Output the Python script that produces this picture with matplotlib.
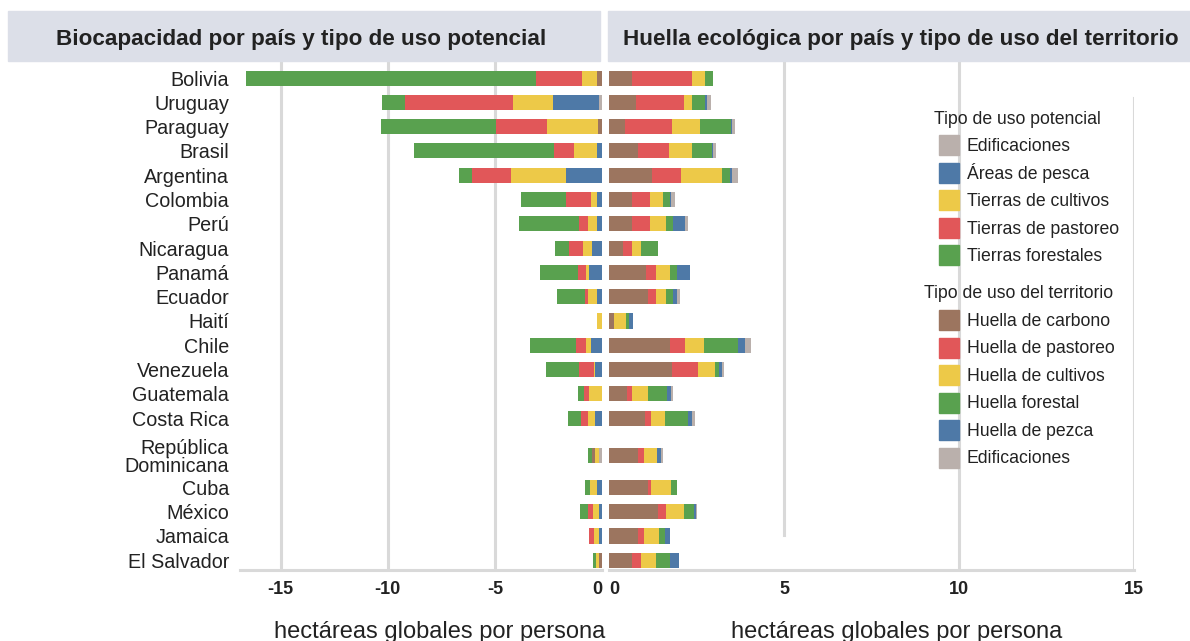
import numpy as np
import matplotlib.pyplot as plt
from matplotlib.patches import Patch, Rectangle

# datos (hectareas globales por persona)
paises = ["Bolivia", "Uruguay", "Paraguay", "Brasil", "Argentina", "Colombia",
          "Perú", "Nicaragua", "Panamá", "Ecuador", "Haití", "Chile",
          "Venezuela", "Guatemala", "Costa Rica", "República\nDominicana",
          "Cuba", "México", "Jamaica", "El Salvador"]

# biocapacidad (panel izquierdo)
bio_otros = [0.23, 0, 0.19, 0, 0, 0, 0, 0, 0, 0, 0, 0, 0, 0, 0, 0, 0, 0, 0, 0.14]
bio_edificaciones = [0, 0.14, 0, 0, 0, 0, 0, 0, 0, 0, 0, 0, 0, 0, 0, 0.14, 0, 0, 0, 0]
bio_pesca = [0, 2.15, 0, 0.23, 1.68, 0.23, 0.23, 0.47, 0.61, 0.23, 0, 0.51, 0.33,
             0, 0.33, 0, 0.23, 0.14, 0.14, 0]
bio_cultivos = [0.70, 1.87, 2.38, 1.07, 2.57, 0.28, 0.42, 0.42, 0.14, 0.42, 0.23,
                0.23, 0.05, 0.61, 0.33, 0.19, 0.33, 0.28, 0.23, 0.14]
bio_pastoreo = [2.17, 5.02, 2.38, 0.93, 1.84, 1.18, 0.44, 0.65, 0.37, 0.14, 0,
                0.48, 0.70, 0.23, 0.34, 0.14, 0, 0.22, 0.23, 0]
bio_forestal = [13.54, 1.11, 5.37, 6.54, 0.59, 2.09, 2.79, 0.65, 1.78, 1.31, 0,
                2.13, 1.54, 0.28, 0.59, 0.19, 0.23, 0.39, 0, 0.14]

# huella ecologica (panel derecho)
huella_carbono = [0.66, 0.78, 0.45, 0.83, 1.24, 0.66, 0.66, 0.41, 1.06, 1.12, 0.14,
                  1.75, 1.81, 0.52, 1.03, 0.83, 1.12, 1.41, 0.83, 0.66]
huella_pastoreo = [1.72, 1.35, 1.36, 0.89, 0.83, 0.52, 0.52, 0.25, 0.29, 0.23, 0,
                   0.43, 0.72, 0.14, 0.17, 0.17, 0.09, 0.23, 0.17, 0.26]
huella_cultivos = [0.37, 0.23, 0.80, 0.66, 1.15, 0.37, 0.46, 0.26, 0.40, 0.29, 0.34,
                   0.52, 0.49, 0.46, 0.40, 0.37, 0.55, 0.49, 0.43, 0.43]
huella_forestal = [0.23, 0.37, 0.87, 0.55, 0.23, 0.20, 0.20, 0.49, 0.20, 0.20, 0.09,
                   0.98, 0.11, 0.55, 0.66, 0, 0.17, 0.29, 0.17, 0.40]
huella_pesca = [0, 0.06, 0.02, 0.03, 0.06, 0.03, 0.32, 0, 0.37, 0.09, 0.11, 0.20,
                0.09, 0.09, 0.11, 0.11, 0, 0.06, 0.14, 0.26]
huella_edificaciones = [0, 0.11, 0.11, 0.11, 0.17, 0.11, 0.11, 0, 0, 0.11, 0, 0.17,
                        0.06, 0.06, 0.09, 0.06, 0, 0.03, 0, 0]

MARRON = "#9c755f"
ROJO = "#e15759"
AMARILLO = "#edc948"
VERDE = "#59a14f"
AZUL = "#4e79a7"
GRIS = "#bab0ac"
GRILLA = "#d9d9d9"
TEXTO = "#222222"
FUENTE = "Liberation Sans"

W, H = 1190, 641


def caja(x0, y0, x1, y1):
    # rectangulo en pixeles -> fracciones de figura
    return [x0 / W, 1 - y1 / H, (x1 - x0) / W, (y1 - y0) / H]


n = len(paises)
pos = np.arange(n, dtype=float)
pos[15] += 0.55
pos[16:] += 0.85
alto = 0.62

fig = plt.figure(figsize=(11.9, 6.41), dpi=100)
ax1 = fig.add_axes(caja(240, 62, 602, 570))
ax2 = fig.add_axes(caja(609, 62, 1134, 570))

# franjas de titulo
for x0, x1 in [(8, 600), (608, 1190)]:
    fig.patches.append(Rectangle((x0 / W, 1 - 61 / H), (x1 - x0) / W, 50 / H,
                                 transform=fig.transFigure, color="#dcdfe8", zorder=0))
fig.text(301 / W, 1 - 45.5 / H, "Biocapacidad por país y tipo de uso potencial",
         ha="center", va="baseline", fontsize=16.2, fontweight="bold",
         family=FUENTE, color=TEXTO)
fig.text(901 / W, 1 - 45.5 / H, "Huella ecológica por país y tipo de uso del territorio",
         ha="center", va="baseline", fontsize=16.2, fontweight="bold",
         family=FUENTE, color=TEXTO)

# panel izquierdo: barras hacia la izquierda
for v in [-15, -10, -5]:
    ax1.axvline(v, color=GRILLA, lw=2.2, zorder=0)
series_bio = [bio_otros, bio_edificaciones, bio_pesca, bio_cultivos, bio_pastoreo, bio_forestal]
colores_bio = [MARRON, GRIS, AZUL, AMARILLO, ROJO, VERDE]
acum = np.zeros(n)
for vals, col in zip(series_bio, colores_bio):
    vals = np.array(vals)
    cols = [col] * n
    if col == ROJO:
        cols[15] = MARRON  # asi aparece en el original
    ax1.barh(pos, -vals, left=-acum, height=alto, color=cols, zorder=2)
    acum += vals

ax1.set_xlim(-16.9, 0)
ax1.set_ylim(20.25, -0.66)
ax1.set_yticks(pos, paises)
ax1.set_xticks([-15, -10, -5, 0], ["-15", "-10", "-5", "0"])
ax1.get_xticklabels()[-1].set_ha("right")

# panel derecho: huella
ax2.axvline(10, color=GRILLA, lw=2.2, zorder=0)
ax2.axvline(5, ymin=0.069, color=GRILLA, lw=2.2, zorder=0)
ax2.axvline(15, ymax=0.929, color=GRILLA, lw=2.2, zorder=0)
series_huella = [huella_carbono, huella_pastoreo, huella_cultivos, huella_forestal,
                 huella_pesca, huella_edificaciones]
colores_huella = [MARRON, ROJO, AMARILLO, VERDE, AZUL, GRIS]
acum = np.zeros(n)
for vals, col in zip(series_huella, colores_huella):
    vals = np.array(vals)
    ax2.barh(pos, vals, left=acum, height=alto, color=col, zorder=2)
    acum += vals

ax2.set_xlim(0, 15)
ax2.set_ylim(20.25, -0.66)
ax2.set_yticks([])
ax2.set_xticks([0, 5, 10, 15], ["0", "5", "10", "15"])
ax2.get_xticklabels()[0].set_ha("left")

for ax in (ax1, ax2):
    for lado in ["top", "left", "right"]:
        ax.spines[lado].set_visible(False)
    ax.spines["bottom"].set_color(GRILLA)
    ax.spines["bottom"].set_linewidth(2.2)
    ax.tick_params(axis="both", length=0)
    ax.tick_params(axis="x", pad=8)
    ax.tick_params(axis="y", pad=8)
    for t in ax.get_xticklabels():
        t.set_fontfamily(FUENTE)
        t.set_fontweight("bold")
        t.set_fontsize(13)
        t.set_color(TEXTO)
for t in ax1.get_yticklabels():
    t.set_fontfamily(FUENTE)
    t.set_fontsize(14.2)
    t.set_color(TEXTO)
    t.set_linespacing(0.95)

fig.text(440 / W, 1 - 638 / H, "hectáreas globales por persona", ha="center",
         va="baseline", fontsize=17, family=FUENTE, color=TEXTO)
fig.text(897 / W, 1 - 638 / H, "hectáreas globales por persona", ha="center",
         va="baseline", fontsize=17, family=FUENTE, color=TEXTO)

# leyendas (titulos aparte para alinearlos como en el original)
opciones = dict(loc="upper left", frameon=False,
                handlelength=1.134, handleheight=1.368, labelspacing=0.425,
                handletextpad=0.45, borderpad=0, borderaxespad=0,
                prop={"family": FUENTE, "size": 12.7})
h1 = [Patch(color=c) for c in [GRIS, AZUL, AMARILLO, ROJO, VERDE]]
l1 = ["Edificaciones", "Áreas de pesca", "Tierras de cultivos", "Tierras de pastoreo",
      "Tierras forestales"]
leg1 = fig.legend(h1, l1, bbox_to_anchor=(939 / W, 1 - 135 / H), **opciones)
h2 = [Patch(color=c) for c in [MARRON, ROJO, AMARILLO, VERDE, AZUL, GRIS]]
l2 = ["Huella de carbono", "Huella de pastoreo", "Huella de cultivos", "Huella forestal",
      "Huella de pezca", "Edificaciones"]
leg2 = fig.legend(h2, l2, bbox_to_anchor=(939 / W, 1 - 310 / H), **opciones)
for leg in (leg1, leg2):
    for t in leg.get_texts():
        t.set_color(TEXTO)
fig.text(934 / W, 1 - 119 / H, "Tipo de uso potencial", ha="left", va="center",
         fontsize=12.7, family=FUENTE, color=TEXTO)
fig.text(924 / W, 1 - 293 / H, "Tipo de uso del territorio", ha="left", va="center",
         fontsize=12.7, family=FUENTE, color=TEXTO)

fig.savefig("out.png", dpi=100)
plt.close()
